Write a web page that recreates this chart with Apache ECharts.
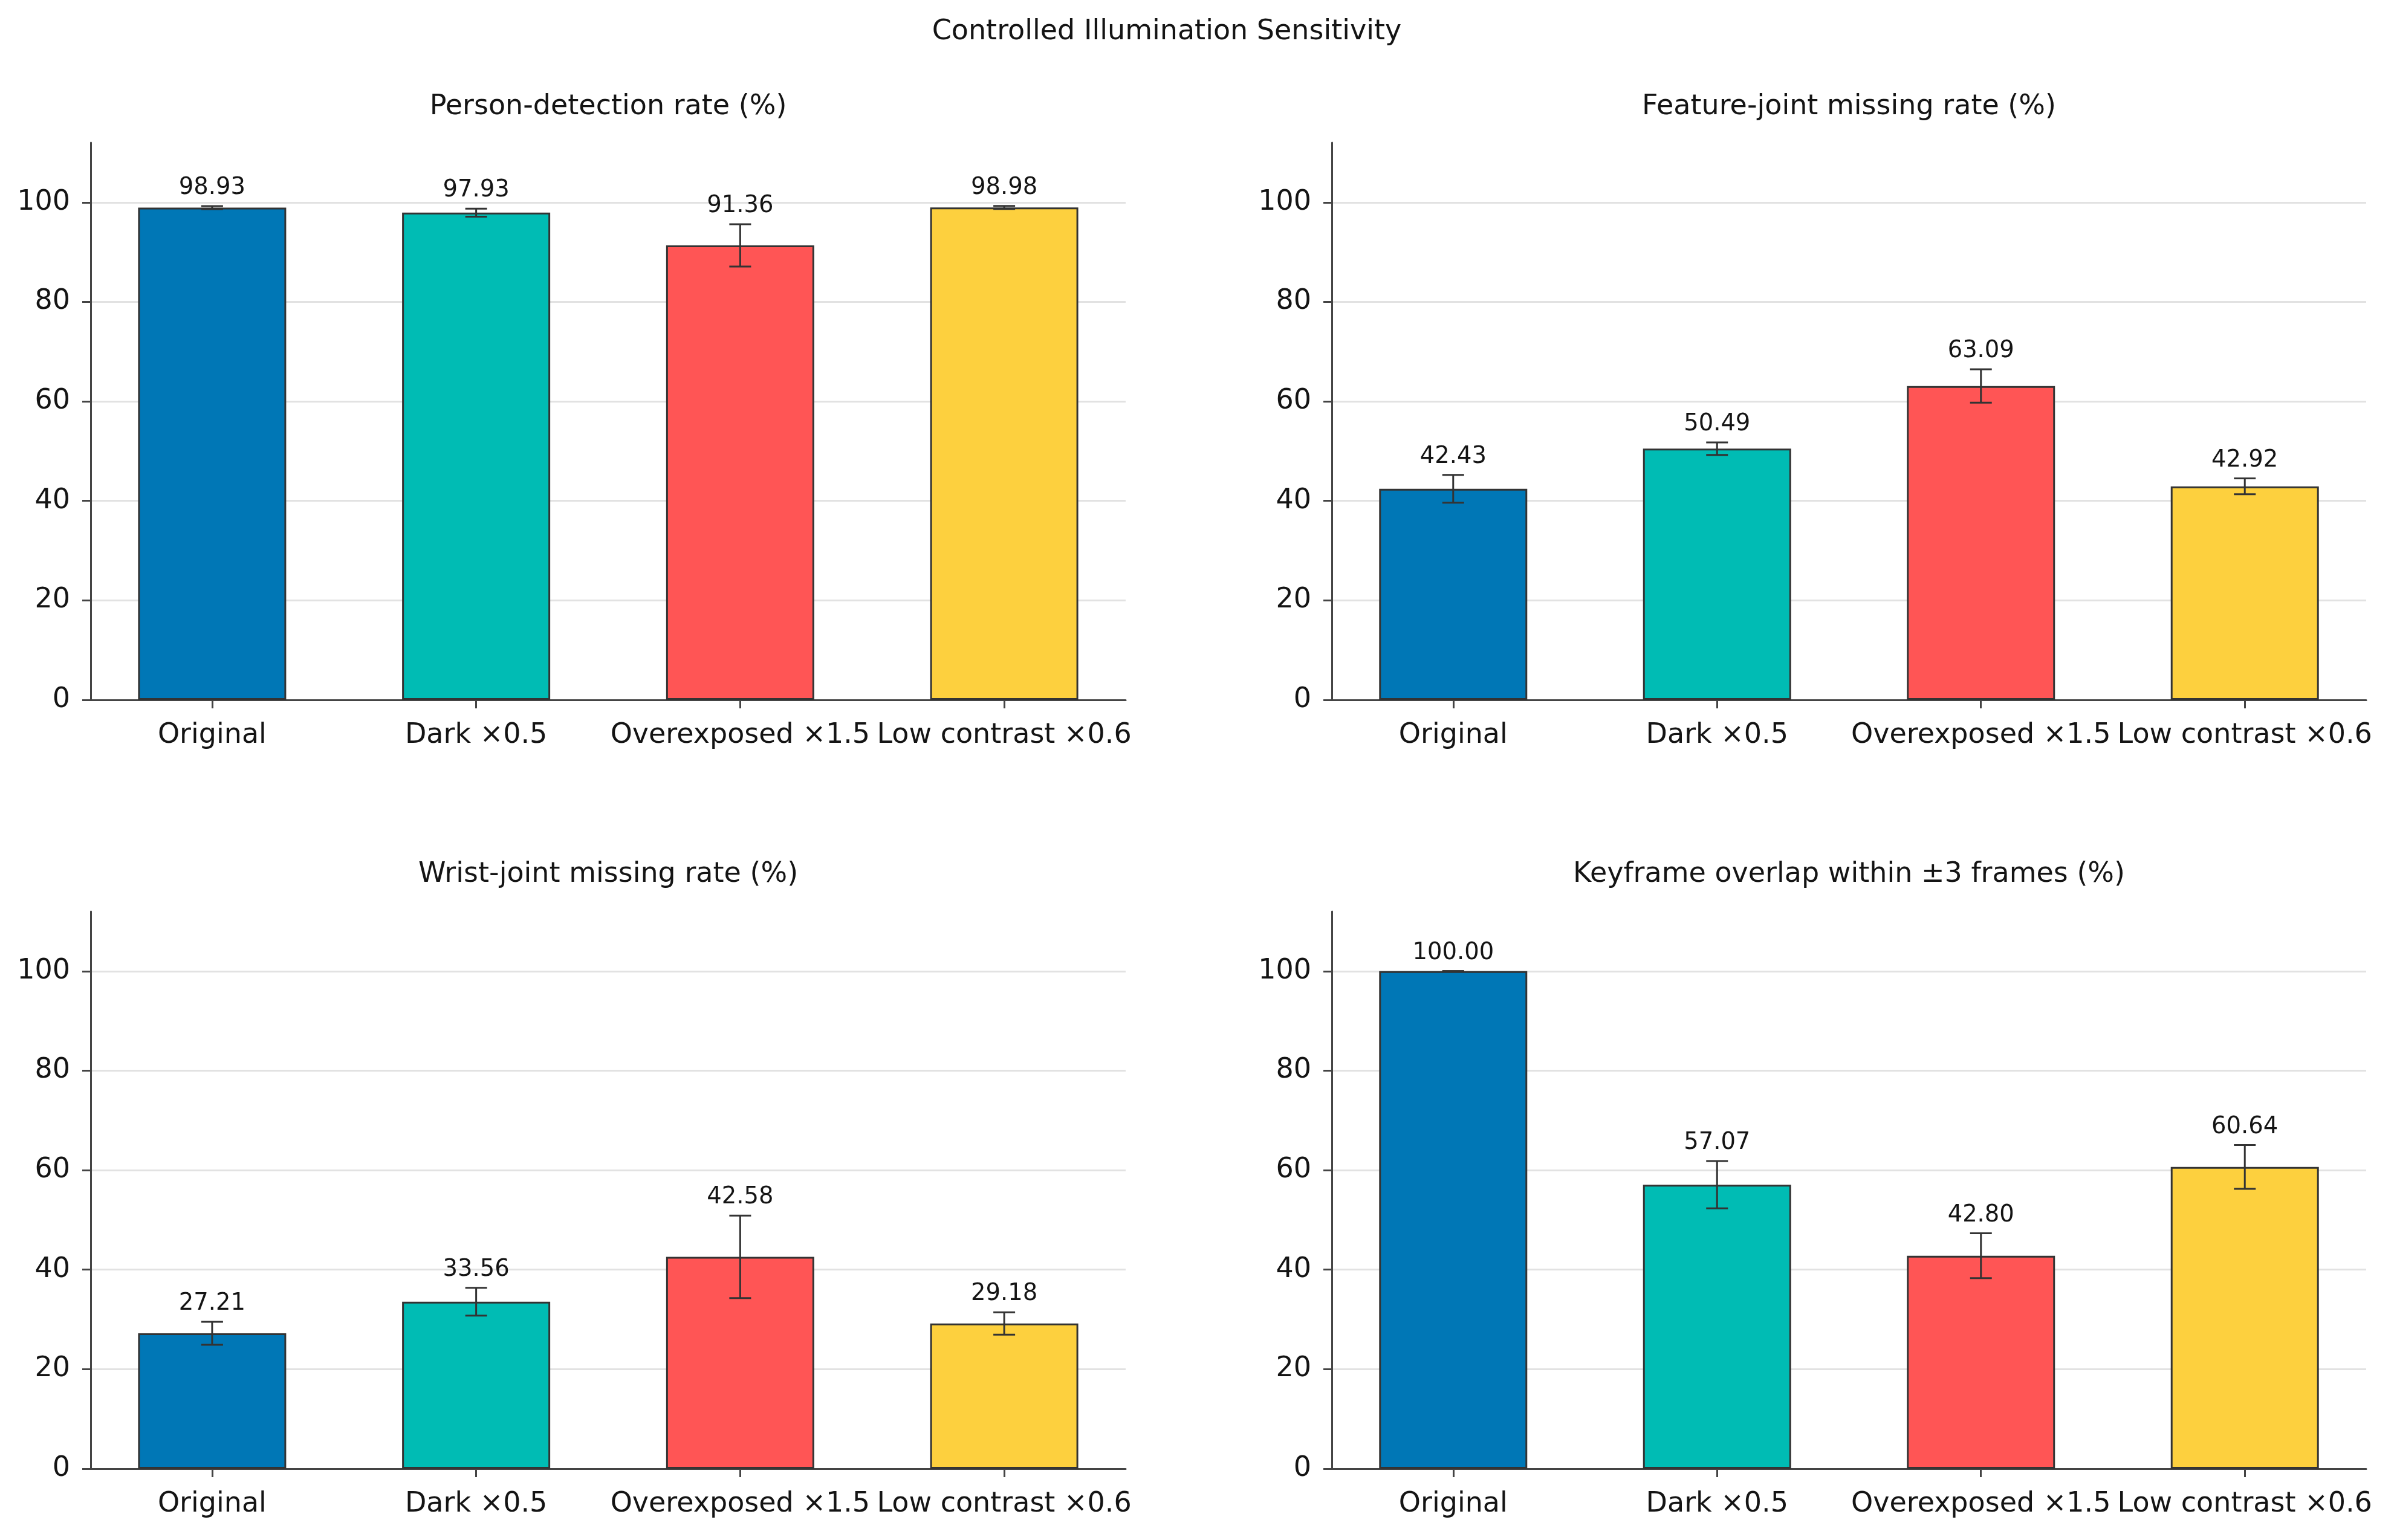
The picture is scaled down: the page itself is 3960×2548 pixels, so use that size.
<!DOCTYPE html>
<html>
<head>
<meta charset="utf-8">
<script src="https://cdn.jsdelivr.net/npm/echarts@6/dist/echarts.min.js"></script>
<style>
html,body{margin:0;padding:0;background:#fff;}
#chart{width:3960px;height:2548px;}
</style>
</head>
<body>
<div id="chart"></div>
<script>
const categories = ['Original', 'Dark \u00d70.5', 'Overexposed \u00d71.5', 'Low contrast \u00d70.6'];
const colors = ['#0077b6', '#00bcb4', '#ff5555', '#fdd03e'];
const yTicks = [0, 20, 40, 60, 80, 100];

const suptitle = 'Controlled Illumination Sensitivity';
const panelTitles = [
  'Person-detection rate (%)',
  'Feature-joint missing rate (%)',
  'Wrist-joint missing rate (%)',
  'Keyframe overlap within \u00b13 frames (%)'
];

const personMean = [98.93, 97.93, 91.36, 98.98];
const personErr = [0.3, 0.8, 4.25, 0.3];
const featureMean = [42.43, 50.49, 63.09, 42.92];
const featureErr = [2.8, 1.25, 3.35, 1.6];
const wristMean = [27.21, 33.56, 42.58, 29.18];
const wristErr = [2.3, 2.8, 8.3, 2.25];
const keyMean = [100.00, 57.07, 42.80, 60.64];
const keyErr = [0, 4.75, 4.5, 4.4];

const panels = [
  {mean: personMean, err: personErr},
  {mean: featureMean, err: featureErr},
  {mean: wristMean, err: wristErr},
  {mean: keyMean, err: keyErr}
];

const FONT = 'DejaVu Sans';
const TXT = '#141414';
const grids = [
  {left: 150, top: 236, width: 1712, height: 922},
  {left: 2203, top: 236, width: 1711, height: 922},
  {left: 150, top: 1508, width: 1712, height: 922},
  {left: 2203, top: 1508, width: 1711, height: 922}
];
const titleY = [177, 177, 1447, 1447];

const chart = echarts.init(document.getElementById('chart'));

const xAxes = [], yAxes = [], series = [], graphics = [];
const catIdx = categories.map((c, i) => i);

grids.forEach((g, k) => {
  xAxes.push({
    type: 'value', gridIndex: k, min: -0.46, max: 3.46,
    axisLine: {show: true, onZero: false, lineStyle: {color: '#444', width: 3}},
    axisTick: {show: true, length: 14, lineStyle: {color: '#444', width: 3}, customValues: catIdx},
    axisLabel: {show: true, customValues: catIdx, margin: 36, fontSize: 46, fontFamily: FONT, color: TXT,
      formatter: v => categories[Math.round(v)]},
    splitLine: {show: false}
  });
  yAxes.push({
    type: 'value', gridIndex: k, min: 0, max: 112,
    axisLine: {show: true, onZero: false, lineStyle: {color: '#444', width: 3}},
    axisTick: {show: true, length: 14, lineStyle: {color: '#444', width: 3}, customValues: yTicks},
    axisLabel: {show: true, customValues: yTicks, margin: 34, fontSize: 46, fontFamily: FONT, color: TXT},
    splitLine: {show: true, lineStyle: {color: '#e2e2e2', width: 3}}
  });
  const p = panels[k];
  series.push({
    type: 'bar', xAxisIndex: k, yAxisIndex: k, barWidth: 245,
    data: p.mean.map((v, i) => ({value: [i, v], itemStyle: {color: colors[i]}})),
    itemStyle: {borderColor: '#333', borderWidth: 3},
    silent: true, animation: false
  });
  series.push({
    type: 'custom', xAxisIndex: k, yAxisIndex: k, clip: false, silent: true, animation: false, z: 5,
    encode: {x: 0, y: 1},
    data: p.mean.map((v, i) => [i, v, p.err[i]]),
    renderItem: function (params, api) {
      const x = api.value(0), m = api.value(1), e = api.value(2);
      const top = api.coord([x, m + e]);
      const bot = api.coord([x, m - e]);
      const cap = 18;
      const ls = {stroke: '#333', lineWidth: 3};
      return {
        type: 'group',
        children: [
          {type: 'line', shape: {x1: top[0], y1: top[1], x2: bot[0], y2: bot[1]}, style: ls},
          {type: 'line', shape: {x1: top[0] - cap, y1: top[1], x2: top[0] + cap, y2: top[1]}, style: ls},
          {type: 'line', shape: {x1: bot[0] - cap, y1: bot[1], x2: bot[0] + cap, y2: bot[1]}, style: ls},
          {type: 'text', style: {text: m.toFixed(2), x: top[0], y: top[1] - 30, align: 'center',
            verticalAlign: 'middle', fontSize: 38.5, fontFamily: FONT, fill: TXT}}
        ]
      };
    }
  });
  graphics.push({
    type: 'text', x: g.left + g.width / 2, y: titleY[k],
    style: {text: panelTitles[k], align: 'center', verticalAlign: 'middle', fontSize: 46, fontFamily: FONT, fill: TXT}
  });
});

graphics.push({
  type: 'text', x: 1930, y: 53,
  style: {text: suptitle, align: 'center', verticalAlign: 'middle', fontSize: 46, fontFamily: FONT, fill: TXT}
});

chart.setOption({
  backgroundColor: '#ffffff',
  animation: false,
  grid: grids,
  xAxis: xAxes,
  yAxis: yAxes,
  series: series,
  graphic: graphics
});
</script>
</body>
</html>
